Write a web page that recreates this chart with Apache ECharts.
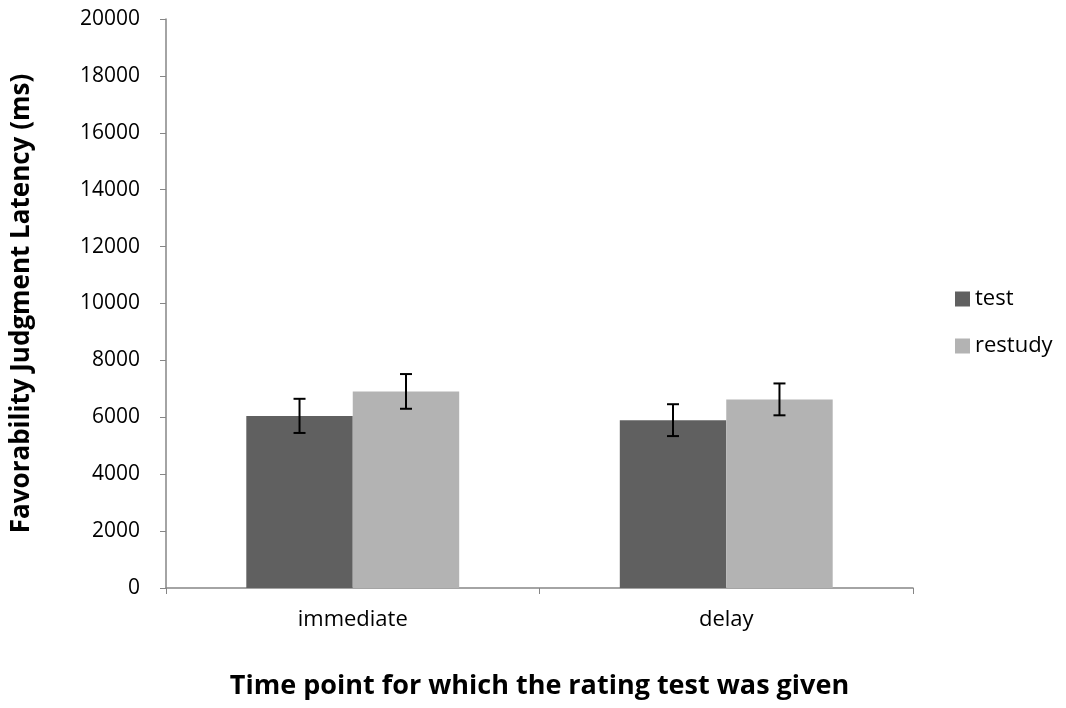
<!DOCTYPE html>
<html><head><meta charset="utf-8">
<script src="https://cdn.jsdelivr.net/npm/echarts@6/dist/echarts.min.js"></script>
<style>html,body{margin:0;padding:0;background:#fff}#c{width:1066px;height:708px}</style>
</head><body><div id="c"></div>
<script>
const categories = ['immediate', 'delay'];
const seriesNames = ['test', 'restudy'];
const testValues = [6050, 5900];
const restudyValues = [6910, 6630];
const testErr = [600, 560];
const restudyErr = [610, 560];
const yTicks = [0, 2000, 4000, 6000, 8000, 10000, 12000, 14000, 16000, 18000, 20000];

const FONT = '"Open Sans", "Liberation Sans", sans-serif';
const chart = echarts.init(document.getElementById('c'), null, {renderer: 'canvas'});

function errSeries(name, values, errs, idx) {
  return {
    type: 'custom', name: name + '_err', silent: true, z: 10,
    data: values.map((v, i) => [i, v - errs[i], v + errs[i]]),
    renderItem: function (params, api) {
      const ci = api.value(0);
      const lo = api.coord([ci, api.value(1)]);
      const hi = api.coord([ci, api.value(2)]);
      const bw = api.size([1, 0])[0];
      const barW = bw * 0.57 / 2;
      const x = lo[0] + (idx === 0 ? -barW / 2 : barW / 2);
      const cap = 6;
      const st = {stroke: '#000', lineWidth: 2};
      return {type: 'group', children: [
        {type: 'line', shape: {x1: x, y1: lo[1], x2: x, y2: hi[1]}, style: st},
        {type: 'line', shape: {x1: x - cap, y1: lo[1], x2: x + cap, y2: lo[1]}, style: st},
        {type: 'line', shape: {x1: x - cap, y1: hi[1], x2: x + cap, y2: hi[1]}, style: st}
      ]};
    }
  };
}

chart.setOption({
  animation: false,
  grid: {left: 166, right: 153, top: 19, bottom: 120, containLabel: false, outerBoundsMode: 'none'},
  legend: {
    data: seriesNames, orient: 'vertical', left: 950, top: 283,
    itemWidth: 15, itemHeight: 15, itemGap: 25, icon: 'rect',
    textStyle: {fontFamily: FONT, fontSize: 22, color: '#000', padding: [0, 0, 0, 0]}
  },
  xAxis: {
    type: 'category', data: categories,
    axisLine: {lineStyle: {color: '#868686', width: 1.5}},
    axisTick: {show: true, length: 6, inside: false, lineStyle: {color: '#868686'}},
    axisLabel: {fontFamily: FONT, fontSize: 22, color: '#000', margin: 21},
    name: 'Time point for which the rating test was given',
    nameLocation: 'middle', nameGap: 85,
    nameTextStyle: {fontFamily: FONT, fontSize: 27, fontWeight: 'bold', color: '#000'}
  },
  yAxis: {
    type: 'value', min: 0, max: 20000, interval: 2000,
    splitLine: {show: false},
    axisLine: {show: true, lineStyle: {color: '#868686', width: 1.5}},
    axisTick: {show: true, length: 6, lineStyle: {color: '#868686'}},
    axisLabel: {fontFamily: FONT, fontSize: 21, color: '#000', margin: 26,
      formatter: v => yTicks.includes(v) ? String(v) : ''},
    name: 'Favorability Judgment Latency (ms)',
    nameLocation: 'middle', nameGap: 131, nameRotate: 90,
    nameTextStyle: {fontFamily: FONT, fontSize: 26, fontWeight: 'bold', color: '#000'}
  },
  series: [
    {type: 'bar', name: seriesNames[0], data: testValues, barGap: '0%', barCategoryGap: '43%',
      itemStyle: {color: '#606060'}},
    {type: 'bar', name: seriesNames[1], data: restudyValues, barGap: '0%', barCategoryGap: '43%',
      itemStyle: {color: '#b3b3b3'}},
    errSeries('test', testValues, testErr, 0),
    errSeries('restudy', restudyValues, restudyErr, 1)
  ]
});
</script></body></html>
